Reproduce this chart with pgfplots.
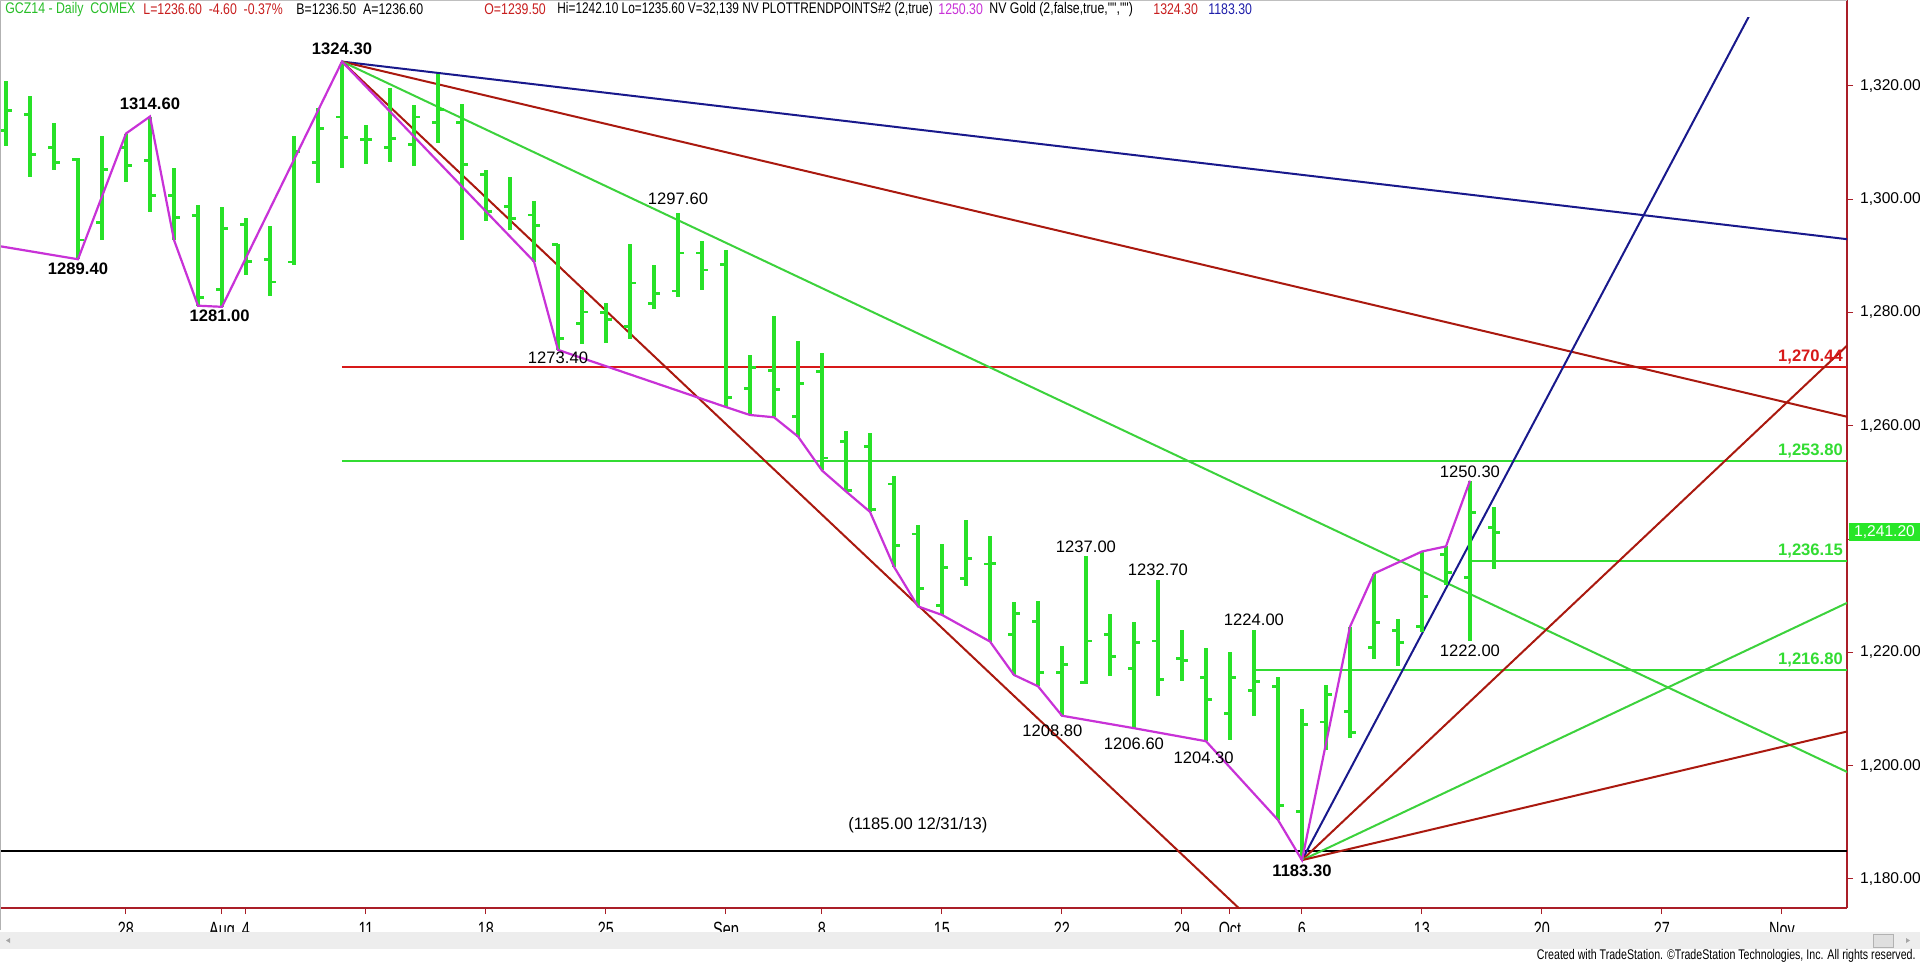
\documentclass[border=0pt]{standalone}
\usepackage{fontspec}
\setmainfont{Liberation Sans}
\newfontfamily\narrowfont[FakeStretch=0.7]{Liberation Sans}
\newfontfamily\headfam[FakeStretch=0.8]{Liberation Sans}
\newfontfamily\headfamb[FakeStretch=0.77]{Liberation Sans}
\newfontfamily\footfam[FakeStretch=0.76]{Liberation Sans}
\usepackage{pgfplots}
\usepackage{pgfplotstable}
\pgfplotsset{compat=1.18}
\definecolor{barg}{RGB}{40,225,40}
\definecolor{lineg}{RGB}{60,210,60}
\definecolor{hlineg}{RGB}{50,220,50}
\definecolor{fanred}{RGB}{170,25,15}
\definecolor{hred}{RGB}{215,25,25}
\definecolor{fanblue}{RGB}{25,25,140}
\definecolor{magen}{RGB}{200,50,215}
\definecolor{axred}{RGB}{170,30,40}
\definecolor{headg}{RGB}{40,190,40}
\definecolor{headr}{RGB}{200,30,30}
\definecolor{headb}{RGB}{30,30,170}
\definecolor{tagg}{RGB}{40,230,40}
\newcommand{\lbl}{\fontsize{8.3}{9}\selectfont}
\newcommand{\axisfont}{\fontsize{7.8}{9}\selectfont}
\pgfdeclareplotmark{lefttick}{\pgfpathmoveto{\pgfqpoint{-2.8pt}{0pt}}\pgfpathlineto{\pgfqpoint{0pt}{0pt}}\pgfusepathqstroke}
\pgfdeclareplotmark{righttick}{\pgfpathmoveto{\pgfqpoint{0pt}{0pt}}\pgfpathlineto{\pgfqpoint{2.8pt}{0pt}}\pgfusepathqstroke}
\pgfplotstableread{
i o h l c
-5 1312.2 1320.8 1309.4 1315.6
-4 1314.9 1318.2 1304.0 1307.9
-3 1309.2 1313.4 1305.2 1306.5
-2 1307.0 1307.2 1289.4 1292.8
-1 1295.9 1311.2 1292.8 1305.3
0 1309.2 1311.6 1303.1 1305.9
1 1306.8 1314.6 1297.8 1300.6
2 1300.6 1305.5 1292.8 1296.8
3 1297.1 1299.0 1281.2 1282.7
4 1284.1 1298.6 1281.0 1294.9
5 1295.6 1296.6 1286.6 1289.0
6 1289.3 1295.3 1282.9 1285.4
7 1288.9 1311.2 1288.4 1308.4
8 1306.5 1316.1 1302.8 1312.5
9 1314.5 1324.3 1305.5 1310.9
10 1310.6 1313.1 1306.2 1310.6
11 1309.2 1319.6 1306.6 1310.7
12 1309.6 1316.6 1305.8 1314.5
13 1313.5 1322.1 1309.9 1315.9
14 1313.5 1316.9 1292.8 1306.2
15 1304.3 1305.2 1296.2 1297.8
16 1298.7 1304.0 1294.5 1296.6
17 1297.2 1299.6 1289.0 1295.3
18 1292.0 1292.1 1273.4 1275.4
19 1278.1 1284.0 1274.4 1280.1
20 1280.0 1281.7 1274.6 1278.8
21 1277.5 1292.1 1275.4 1285.2
22 1281.6 1288.4 1280.7 1283.4
23 1283.8 1297.6 1282.8 1290.5
24 1290.5 1292.7 1283.9 1287.5
25 1288.5 1291.0 1263.3 1265.0
26 1266.6 1272.5 1261.9 1270.3
27 1269.8 1279.4 1261.5 1266.4
28 1261.7 1275.0 1258.1 1267.4
29 1269.6 1272.9 1252.1 1254.3
30 1257.2 1259.0 1248.4 1248.5
31 1256.3 1258.7 1244.8 1245.2
32 1249.7 1251.1 1235.1 1238.9
33 1240.9 1242.5 1228.1 1231.3
34 1228.2 1239.2 1226.6 1235.0
35 1233.1 1243.4 1231.7 1236.6
36 1235.6 1240.6 1221.9 1235.7
37 1223.1 1228.8 1216.0 1226.8
38 1225.5 1229.1 1214.0 1216.5
39 1216.4 1221.1 1208.8 1217.8
40 1214.6 1237.0 1214.5 1222.0
41 1223.1 1226.8 1215.9 1219.2
42 1217.2 1225.4 1206.6 1221.8
43 1222.0 1232.7 1212.3 1215.2
44 1218.9 1223.9 1215.0 1218.6
45 1215.6 1220.7 1204.3 1211.6
46 1209.2 1220.0 1204.6 1215.5
47 1213.3 1224.0 1208.8 1214.9
48 1213.9 1215.7 1190.4 1192.9
49 1191.9 1209.9 1183.3 1207.2
50 1207.7 1214.2 1202.7 1212.5
51 1209.6 1224.5 1204.8 1205.8
52 1220.9 1233.9 1218.9 1225.2
53 1223.9 1225.8 1217.5 1221.7
54 1224.5 1237.8 1223.6 1229.9
55 1237.2 1238.7 1231.9 1234.1
56 1233.2 1250.3 1222.0 1244.7
57 1242.1 1245.6 1234.8 1241.2
}\bars
\begin{document}
\begin{tikzpicture}
\useasboundingbox (0,0) rectangle (960pt,482pt);
\fill[white] (0,0) rectangle (960pt,482pt);
\begin{axis}[
  at={(0pt,28pt)}, anchor=south west, scale only axis,
  width=923.5pt, height=445pt,
  xmin=-5.25, xmax=71.71, ymin=1174.85, ymax=1332.0,
  axis x line=bottom, axis y line=right,
  axis line style={draw=axred, line width=0.7pt, -},
  x axis line style={-}, y axis line style={-},
  tick align=outside, major tick length=3pt,
  tick style={draw=axred, line width=0.5pt},
  clip mode=individual,
  xtick={0,4,5,10,15,20,25,29,34,39,44,46,49,54,59,64,69},
  xticklabels={28,Aug,4,11,18,25,Sep,8,15,22,29,Oct,6,13,20,27,Nov},
  xticklabel style={font=\fontsize{10.3}{11}\narrowfont, yshift=-0.5pt},
  ytick={1180,1200,1220,1240,1260,1280,1300,1320},
  yticklabels={{1,180.00},{1,200.00},{1,220.00},{},{1,260.00},{1,280.00},{1,300.00},{1,320.00}},
  yticklabel style={font=\axisfont, anchor=west},
]
% horizontal lines
\addplot[black, line width=1pt] coordinates {(-5.25,1185) (71.71,1185)};
\addplot[hred, line width=1pt] coordinates {(9,1270.44) (71.71,1270.44)};
\addplot[hlineg, line width=1pt] coordinates {(9,1253.8) (71.71,1253.8)};
\addplot[hlineg, line width=1pt] coordinates {(56,1236.15) (71.71,1236.15)};
\addplot[hlineg, line width=1pt] coordinates {(47,1216.8) (71.71,1216.8)};
% fan from the high
\addplot[fanblue, line width=1pt] coordinates {(9,1324.3) (75,1291.3)};
\addplot[fanred, line width=1pt] coordinates {(9,1324.3) (75,1258.3)};
\addplot[lineg, line width=1pt] coordinates {(9,1324.3) (75,1192.3)};
\addplot[fanred, line width=1pt] coordinates {(9,1324.3) (49,1164.3)};
% fan from the low
\addplot[fanblue, line width=1pt] coordinates {(49,1183.3) (69,1343.3)};
\addplot[fanred, line width=1pt] coordinates {(49,1183.3) (75,1287.3)};
\addplot[lineg, line width=1pt] coordinates {(49,1183.3) (75,1235.3)};
\addplot[fanred, line width=1pt] coordinates {(49,1183.3) (75,1209.3)};
% bars
\addplot[draw=none, mark=none, error bars/.cd, y dir=both, y explicit, error mark=none,
  error bar style={draw=barg, line width=1.6pt}]
  table[x=i, y expr={(\thisrow{h}+\thisrow{l})/2}, y error expr={(\thisrow{h}-\thisrow{l})/2}] {\bars};
\addplot[only marks, mark=lefttick, mark options={draw=barg, line width=1.4pt}] table[x=i, y=o] {\bars};
\addplot[only marks, mark=righttick, mark options={draw=barg, line width=1.4pt}] table[x=i, y=c] {\bars};
% trend points line
\addplot[magen, line width=1.1pt] coordinates {
(-5.25,1291.7) (-2,1289.4) (0,1311.6) (1,1314.6) (2,1292.8) (3,1281.2) (4,1281.0)
(9,1324.3) (17,1289.0) (18,1273.4) (25,1263.3) (26,1261.9) (27,1261.5) (28,1258.1)
(29,1252.1) (30,1248.4) (31,1244.8) (32,1235.1) (33,1228.1) (34,1226.6) (36,1221.9)
(37,1216.0) (38,1214.0) (39,1208.8) (42,1206.6) (45,1204.3) (48,1190.4) (49,1183.3)
(51,1224.5) (52,1233.9) (54,1237.8) (55,1238.7) (56,1250.3)};
% labels
\node[font=\lbl\bfseries] at (axis cs:9,1326.5) {1324.30};
\node[font=\lbl\bfseries] at (axis cs:1,1316.8) {1314.60};
\node[font=\lbl\bfseries] at (axis cs:-2,1287.8) {1289.40};
\node[font=\lbl\bfseries] at (axis cs:3.9,1279.4) {1281.00};
\node[font=\lbl\bfseries] at (axis cs:49,1181.4) {1183.30};
\node[font=\lbl] at (axis cs:18,1272.0) {1273.40};
\node[font=\lbl] at (axis cs:23,1300.1) {1297.60};
\node[font=\lbl] at (axis cs:40,1238.7) {1237.00};
\node[font=\lbl] at (axis cs:43,1234.6) {1232.70};
\node[font=\lbl] at (axis cs:47,1225.7) {1224.00};
\node[font=\lbl] at (axis cs:38.6,1206.1) {1208.80};
\node[font=\lbl] at (axis cs:42,1203.9) {1206.60};
\node[font=\lbl] at (axis cs:44.9,1201.3) {1204.30};
\node[font=\lbl] at (axis cs:56,1251.9) {1250.30};
\node[font=\lbl] at (axis cs:56,1220.3) {1222.00};
\node[font=\lbl] at (axis cs:33,1189.4) {(1185.00 12/31/13)};
\node[font=\lbl\bfseries, text=hred, anchor=east, inner sep=0pt] at (axis cs:71.55,1272.2) {1,270.44};
\node[font=\lbl\bfseries, text=hlineg, anchor=east, inner sep=0pt] at (axis cs:71.55,1255.6) {1,253.80};
\node[font=\lbl\bfseries, text=hlineg, anchor=east, inner sep=0pt] at (axis cs:71.55,1237.8) {1,236.15};
\node[font=\lbl\bfseries, text=hlineg, anchor=east, inner sep=0pt] at (axis cs:71.55,1218.6) {1,216.80};
\node[fill=tagg, text=white, font=\axisfont, anchor=west, minimum width=35.5pt, minimum height=9pt, inner sep=0.5pt, xshift=0.8pt] at (axis cs:71.71,1241.2) {1,241.20};
\end{axis}
% frame bits
\draw[axred, line width=0.7pt] (923.5pt,473pt) -- (923.5pt,482pt);
\draw[gray!60, line width=0.6pt] (0.3pt,17pt) -- (0.3pt,482pt);
\draw[gray!50, line width=0.6pt] (0,481.7pt) -- (923.5pt,481.7pt);
% scroll bar
\fill[gray!14] (0,7.5pt) rectangle (960pt,16pt);
\draw[gray!60, fill=gray!25] (936.5pt,8.5pt) rectangle (946.5pt,15pt);
\fill[gray!70] (3pt,11.75pt) -- (5pt,13pt) -- (5pt,10.5pt) -- cycle;
\fill[gray!70] (955pt,11.75pt) -- (953pt,13pt) -- (953pt,10.5pt) -- cycle;
% header
\begin{scope}[every node/.style={anchor=west, inner sep=0pt, font=\fontsize{7.7}{9}\headfam}]
\node[text=headg] at (2.5pt,477.3pt) {GCZ14 - Daily\ \ COMEX};
\node[text=headr] at (71.5pt,477.3pt) {L=1236.60\ \ -4.60\ \ -0.37\%};
\node at (148pt,477.3pt) {B=1236.50\ \ A=1236.60};
\node[text=headr] at (242pt,477.3pt) {O=1239.50};
\node[font=\fontsize{7.7}{9}\headfamb] at (278.5pt,477.3pt) {Hi=1242.10\ Lo=1235.60\ V=32,139\ NV\ PLOTTRENDPOINTS\#2 (2,true)};
\node[text=magen] at (469pt,477.3pt) {1250.30};
\node at (494.5pt,477.3pt) {NV Gold (2,false,true,"","")};
\node[text=headr] at (576.5pt,477.3pt) {1324.30};
\node[text=headb] at (604pt,477.3pt) {1183.30};
\end{scope}
\node[anchor=east, inner sep=0pt, font=\fontsize{7}{8}\footfam] at (958pt,4pt) {Created with TradeStation. \textcopyright TradeStation Technologies, Inc. All rights reserved.};
\end{tikzpicture}
\end{document}
